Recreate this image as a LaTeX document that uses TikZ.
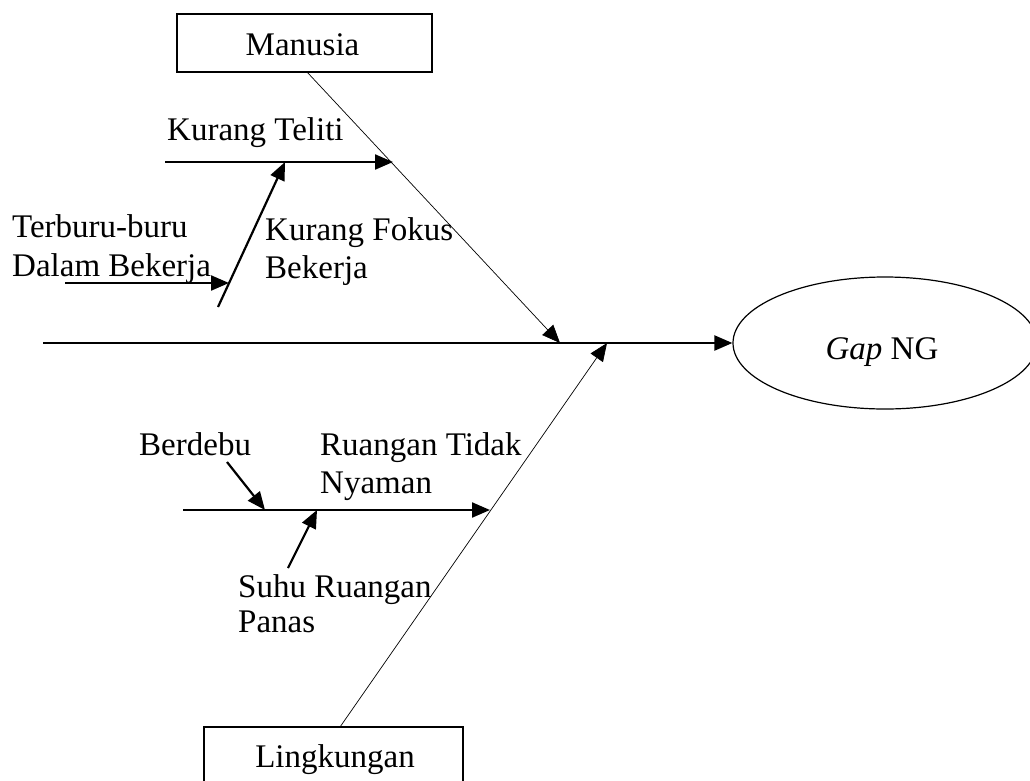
\documentclass[tikz,border=0pt]{standalone}
\usepackage{fontspec}
\setmainfont{Liberation Serif}
\usetikzlibrary{arrows.meta,shapes.geometric}
\begin{document}
\begin{tikzpicture}[x=1pt,y=-1pt,
  lbl/.style={inner sep=0pt, anchor=base west, font=\fontsize{33}{38}\selectfont},
  bone/.style={line width=2.2pt, -{Triangle[length=18pt,width=15pt]}},
  rib/.style={line width=0.7pt, -{Triangle[length=18pt,width=15pt]}},
  catbox/.style={draw, line width=1.5pt, rectangle, inner sep=0pt},
]
\useasboundingbox (0,0) rectangle (1030,780);

% category boxes
\node[catbox, minimum width=255pt, minimum height=58pt] (manusia) at (304.5,43) {};
\node[lbl, anchor=base] (manusiaT) at (302.5,55) {Manusia};
\node[catbox, minimum width=259pt, minimum height=80pt] (lingkungan) at (333.5,767) {};
\node[lbl, anchor=base] (lingkunganT) at (335,767) {Lingkungan};

% effect
\node[draw, ellipse, line width=1.2pt, minimum width=304pt, minimum height=132pt, inner sep=0pt] (gap) at (885,343) {};
\node[lbl, anchor=base] (gapT) at (882,359) {\textit{Gap} NG};

% spine and category lines
\coordinate (spineL) at (43,343);
\draw[bone] (spineL) -- (gap.west);
\coordinate (mFoot) at (307,72);
\coordinate (mHead) at (560,343);
\draw[rib] (mFoot) -- (mHead);
\coordinate (lFoot) at (340,727);
\coordinate (lHead) at (607,343);
\draw[rib] (lFoot) -- (lHead);

% causes: Manusia
\coordinate (ktL) at (165,162);
\coordinate (ktR) at (393,162);
\draw[bone] (ktL) -- (ktR);
\coordinate (kfL) at (218,307);
\coordinate (kfR) at (285,162);
\draw[bone] (kfL) -- (kfR);
\coordinate (tbL) at (65,283);
\coordinate (tbR) at (229,283);
\draw[bone] (tbL) -- (tbR);

\node[lbl] (kt) at (167,140) {Kurang Teliti};
\node[lbl] (kf1) at (265,240) {Kurang Fokus};
\node[lbl] (kf2) at (265,278) {Bekerja};
\node[lbl] (tb1) at (12,237) {Terburu-buru};
\node[lbl] (tb2) at (12,276) {Dalam Bekerja};

% causes: Lingkungan
\coordinate (rtL) at (183,510);
\coordinate (rtR) at (490,510);
\draw[bone] (rtL) -- (rtR);
\coordinate (bdS) at (227,462);
\coordinate (bdE) at (265,510);
\draw[bone] (bdS) -- (bdE);
\coordinate (shS) at (288,568);
\coordinate (shE) at (317,510);
\draw[bone] (shS) -- (shE);

\node[lbl] (bd) at (139,455) {Berdebu};
\node[lbl] (rt1) at (320,455) {Ruangan Tidak};
\node[lbl] (rt2) at (320,493) {Nyaman};
\node[lbl] (sh1) at (238,597) {Suhu Ruangan};
\node[lbl] (sh2) at (238,632) {Panas};
\end{tikzpicture}
\end{document}
